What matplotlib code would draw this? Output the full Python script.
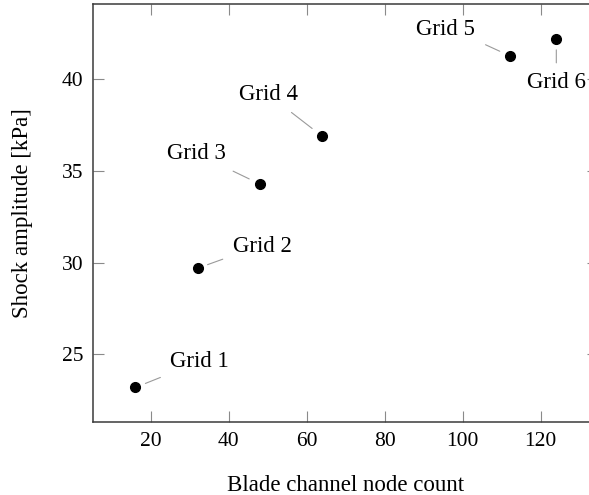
# plot.py — grid convergence: shock amplitude vs. blade channel node count
import matplotlib
matplotlib.use("Agg")
import matplotlib.pyplot as plt

plt.rcParams['font.family'] = ['Liberation Serif', 'DejaVu Serif']
plt.rcParams['font.size'] = 15

# data
node_count = [16, 32, 48, 64, 112, 124]
amplitude = [23.2, 29.7, 34.28, 36.88, 41.28, 42.2]
labels = ["Grid 1", "Grid 2", "Grid 3", "Grid 4", "Grid 5", "Grid 6"]

# pin layout per label (pixels, screen y down): line start, line end, label centre
pins = [
    ((10, -4), (25, -10), (64, -26)),
    ((10, -3), (25, -9), (65, -22)),
    ((-11, -5), (-27, -13), (-64, -31)),
    ((-11, -7), (-31, -24), (-54, -42)),
    ((-10, -4), (-24, -11), (-64, -26)),
    ((0, 11), (0, 24), (0, 44)),
]

C_SPINE = "#3a3a3a"
C_TICK = "#8a8a8a"
C_PIN = "#9a9a9a"

fig = plt.figure(figsize=(5.89, 4.95), dpi=100)
# axes right edge runs past the figure (the original is cropped)
ax = fig.add_axes([93.3 / 589, 1 - 422.3 / 495, 505.1 / 589, 418.3 / 495])

ax.plot(node_count, amplitude, "o", color="black", markersize=7, zorder=3)

px = 0.72  # points per pixel at dpi 100
for x, y, lab, (p0, p1, pc) in zip(node_count, amplitude, labels, pins):
    ax.annotate("", xy=(x, y), xytext=(p1[0] * px, -p1[1] * px),
                textcoords="offset points",
                arrowprops=dict(arrowstyle="-", color=C_PIN, lw=0.8,
                                shrinkA=0,
                                shrinkB=(p0[0] ** 2 + p0[1] ** 2) ** 0.5 * px))
    ax.annotate(lab, xy=(x, y), xytext=(pc[0] * px, -pc[1] * px),
                textcoords="offset points", ha="center", va="center",
                fontsize=16.5, annotation_clip=False)

ax.set_xlim(5.2, 134.8)
ax.set_ylim(21.3, 44.1)
ax.set_xticks([20, 40, 60, 80, 100, 120])
ax.set_yticks([25, 30, 35, 40])

for s in ax.spines.values():
    s.set_color(C_SPINE)
    s.set_linewidth(1.1)

ax.tick_params(direction="in", length=8, width=0.8, color=C_TICK,
               top=True, right=True, labelsize=15.5, pad=7)

ax.set_xlabel("Blade channel node count", fontsize=16.5, labelpad=17)
ax.set_ylabel("Shock amplitude [kPa]", fontsize=16.5, labelpad=21)

fig.savefig("out.png", dpi=100)
